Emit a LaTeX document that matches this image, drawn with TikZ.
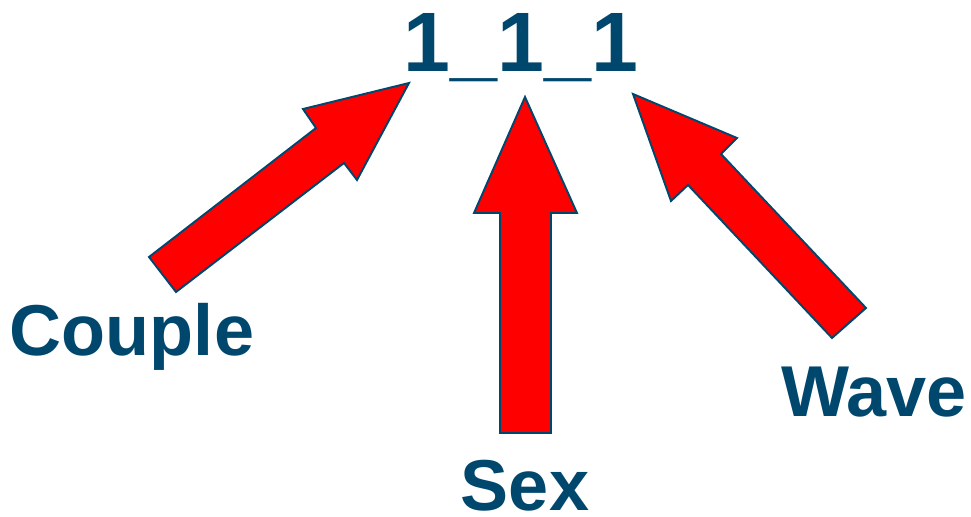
\documentclass[tikz,border=0pt]{standalone}
\usepackage{fontspec}
\setmainfont{Liberation Sans}
\usepackage{tikz}
\definecolor{codeBlue}{HTML}{00476E}
\definecolor{codeRed}{HTML}{FF0000}
\tikzset{
  block arrow/.style={draw=codeBlue, fill=codeRed, line width=1.1pt,
    line join=miter},
  code label/.style={text=codeBlue, inner sep=0pt, anchor=base,
    font=\fontsize{48}{54}\selectfont\bfseries},
  part label/.style={text=codeBlue, inner sep=0pt, anchor=base,
    font=\fontsize{41}{47}\selectfont\bfseries}
}
\begin{document}
\begin{tikzpicture}[x=0.02cm, y=-0.02cm]
  \useasboundingbox (0,0) rectangle (971,517);
  \node[code label] (code) at (521,72) {1\_1\_1};
  % couple arrow
  \draw[block arrow] (409,83) -- (303,109) -- (316,128) -- (149,257)
    -- (176,292) -- (344,163) -- (357,180) -- cycle;
  % sex arrow
  \draw[block arrow] (525,97) -- (577,213) -- (551,213) -- (551,433)
    -- (500,433) -- (500,213) -- (474,213) -- cycle;
  % wave arrow
  \draw[block arrow] (633,94) -- (737,138) -- (721,154) -- (866,308)
    -- (832,338) -- (688,185) -- (671,201) -- cycle;
  \node[part label] (couple) at (132,355) {Couple};
  \node[part label] (sex) at (525,510) {Sex};
  \node[part label] (wave) at (874,416) {Wave};
\end{tikzpicture}
\end{document}
